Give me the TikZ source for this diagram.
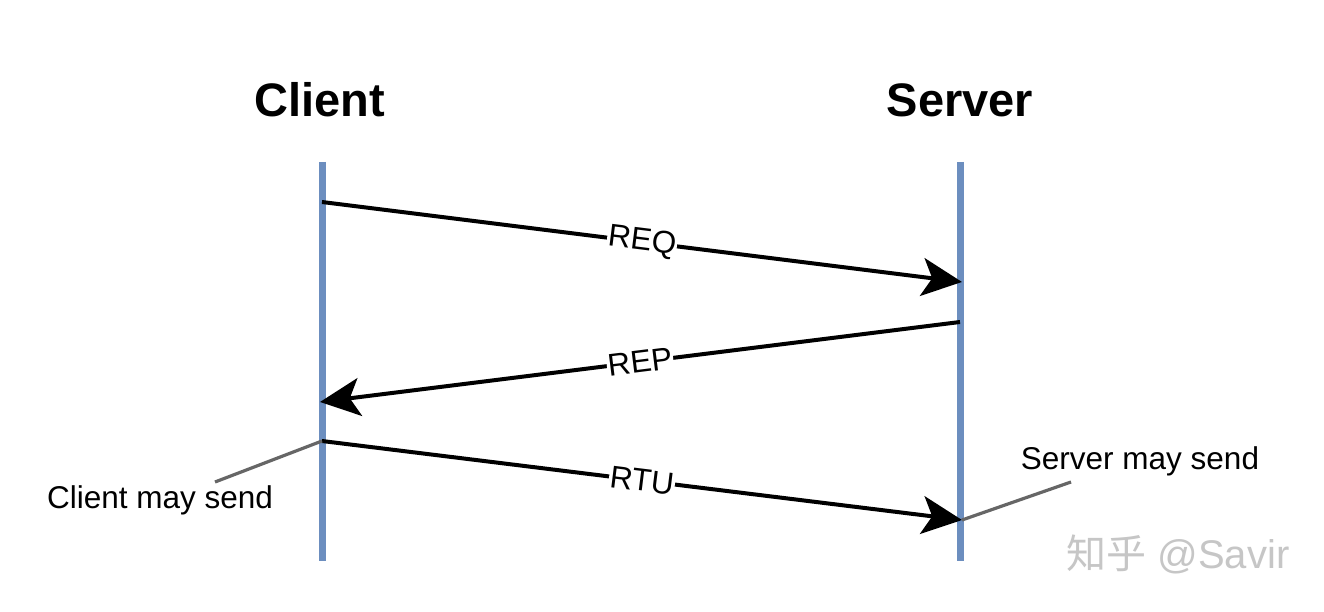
\documentclass[tikz,border=0pt]{standalone}
\usepackage{fontspec}
\setmainfont{Liberation Sans}
\newfontfamily\cjkfont{Noto Sans CJK SC}
\usetikzlibrary{arrows.meta}
\definecolor{lifeblue}{RGB}{108,142,191}
\definecolor{callgray}{RGB}{102,102,102}
\tikzset{
  lifeline/.style={draw=lifeblue, line width=7pt},
  msg/.style={draw=black, line width=4pt, -{Stealth[length=40pt,width=38pt,inset=10pt]}},
  msglabel/.style={fill=white, inner sep=1pt, font=\fontsize{31.5}{36}\selectfont, sloped},
  title/.style={font=\fontsize{47}{56}\selectfont\bfseries, anchor=base},
  note/.style={font=\fontsize{31.5}{36}\selectfont},
  callout/.style={draw=callgray, line width=3.2pt},
  wmark/.style={font=\fontsize{40}{44}\selectfont, text=gray!45}
}
\begin{document}
\begin{tikzpicture}[x=1pt,y=-1pt]
\useasboundingbox (0,0) rectangle (1324,612);
\fill[white] (0,0) rectangle (1324,612);
% titles
\node[title] (client) at (320,117) {Client};
\node[title] (server) at (960,117) {Server};
% lifelines
\coordinate (ctop) at (322,162);
\coordinate (cbot) at (322,561);
\coordinate (stop) at (960,162);
\coordinate (sbot) at (960,561);
\draw[lifeline] (ctop) -- (cbot);
\draw[lifeline] (stop) -- (sbot);
% message endpoints
\coordinate (c1) at (322,202);
\coordinate (s1) at (962,282);
\coordinate (s2) at (960,322);
\coordinate (c2) at (320,402);
\coordinate (c3) at (322,441);
\coordinate (s3) at (962,520);
\draw[msg] (c1) -- node[msglabel] (req) {REQ} (s1);
\draw[msg] (s2) -- node[msglabel] (rep) {REP} (c2);
\draw[msg] (c3) -- node[msglabel] (rtu) {RTU} (s3);
% callouts
\node[note] (cnote) at (160,500) {Client may send};
\node[note] (snote) at (1140,461) {Server may send};
\coordinate (cend) at (215,482);
\coordinate (send) at (1071,482);
\draw[callout] (c3) -- (cend);
\draw[callout] (s3) -- (send);
% watermark
\node[wmark] (wm) at (1178,554) {{\cjkfont 知乎} @Savir};
\end{tikzpicture}
\end{document}
